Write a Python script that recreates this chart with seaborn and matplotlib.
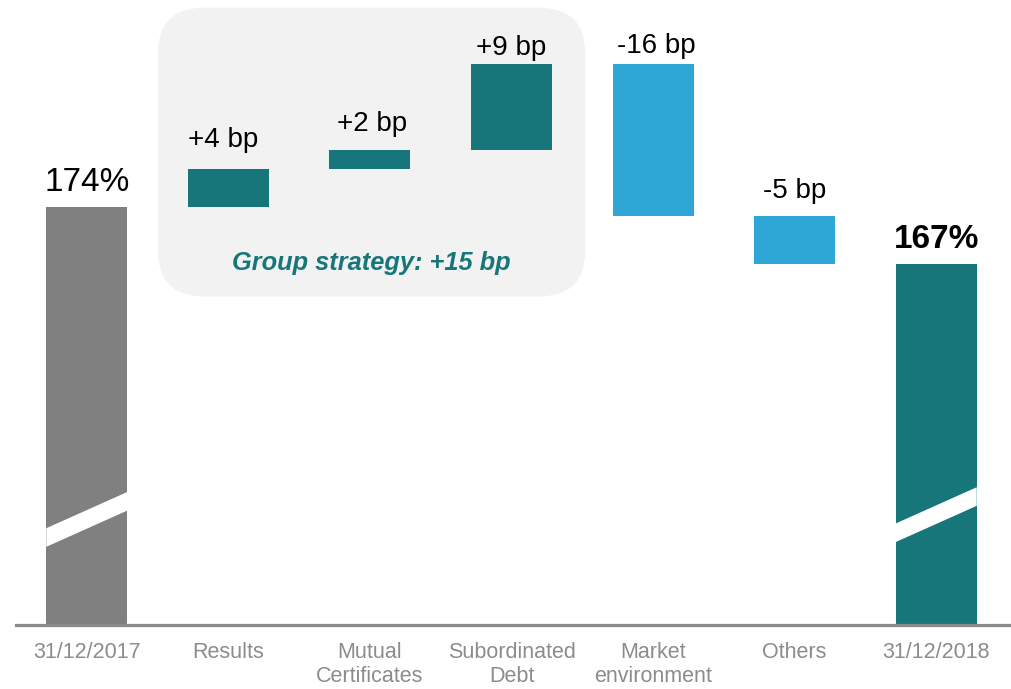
import numpy as np
import pandas as pd
import seaborn as sns
import matplotlib.pyplot as plt
from matplotlib.patches import FancyBboxPatch, Polygon

# solvency ratio bridge 2017 -> 2018
categories = ['31/12/2017', 'Results', 'Mutual\nCertificates', 'Subordinated\nDebt',
              'Market\nenvironment', 'Others', '31/12/2018']
start_value = 174
deltas = [4, 2, 9, -16, -5]
start_label = '174%'
end_label = '167%'
delta_labels = ['+4 bp', '+2 bp', '+9 bp', '-16 bp', '-5 bp']
group_label = 'Group strategy: +15 bp'

gray = '#808080'
teal = '#17767a'
blue = '#2ea6d6'

# waterfall levels
levels = start_value + np.cumsum([0] + deltas)
bottoms = [0] + list(levels[:-1]) + [0]
heights = [start_value] + deltas + [levels[-1]]
bar_colors = [gray, teal, teal, teal, blue, blue, teal]

df = pd.DataFrame({'step': categories, 'height': heights})

sns.set_theme(style='white')
plt.rcParams['font.family'] = ['Liberation Sans', 'DejaVu Sans']

fig = plt.figure(figsize=(10.11, 6.89), dpi=100)
ax = fig.add_axes([16 / 1011, 64 / 689, 995 / 1011, 625 / 689])

sns.barplot(data=df, x='step', y='height', bottom=bottoms, width=0.572,
            color=gray, saturation=1, linewidth=0, ax=ax, zorder=2)
for patch, c in zip(ax.patches, bar_colors):
    patch.set_facecolor(c)
    patch.set_edgecolor(c)

ax.set_xlim(-0.5, 6.528)
ax.set_ylim(130.15, 195.7)
ax.set_yticks([])
ax.set_xlabel('')
ax.set_ylabel('')
for s in ['top', 'left', 'right']:
    ax.spines[s].set_visible(False)
ax.spines['bottom'].set_color('#8a8a8a')
ax.spines['bottom'].set_linewidth(2.3)
ax.spines['bottom'].set_zorder(3)
ax.tick_params(axis='x', length=0, pad=12.5, labelsize=15.5, labelcolor='#8c8c8c')
for lab in ax.get_xticklabels():
    lab.set_linespacing(1.15)

# rounded box behind the group strategy bars
fig.canvas.draw()
p0 = ax.transData.transform((0, 0))
p1 = ax.transData.transform((1, 1))
aspect = (p1[0] - p0[0]) / (p1[1] - p0[1])
box = FancyBboxPatch((0.502, 164.6), 3.02, 30.3,
                     boxstyle='round,pad=0,rounding_size=0.33',
                     mutation_aspect=aspect, facecolor='#f2f2f2',
                     edgecolor='none', zorder=1)
ax.add_patch(box)
ax.text(2.01, 168.1, group_label, ha='center', va='center', fontsize=18.3,
        fontweight='bold', fontstyle='italic', color=teal, zorder=4)

# axis break stripes on the total bars
w = 0.572 / 2
for i in [0, 6]:
    lo_left, lo_right = (140.3, 144.1) if i == 0 else (140.8, 144.6)
    stripe = Polygon([(i - w, lo_left), (i + w, lo_right),
                      (i + w, lo_right - 1.95), (i - w, lo_left - 1.95)],
                     closed=True, facecolor='white', edgecolor='none', zorder=3)
    ax.add_patch(stripe)

# value labels
tops = [start_value] + [max(b, b + d) for b, d in zip(levels[:-1], deltas)] + [levels[-1]]
texts = [start_label] + delta_labels + [end_label]
gaps = [16, 22, 19, 9, 11, 18, 16]
shifts = [0, -5, 2, 0, 3, 0, 0]
for i, (t, lab, g, dx) in enumerate(zip(tops, texts, gaps, shifts)):
    if i in (0, 6):
        ax.annotate(lab, (i, t), xytext=(dx * 0.72, g * 0.72), textcoords='offset points',
                    ha='center', va='baseline', fontsize=24,
                    fontweight='bold' if i == 6 else 'normal', color='black', zorder=4)
    else:
        ax.annotate(lab, (i, t), xytext=(dx * 0.72, g * 0.72), textcoords='offset points',
                    ha='center', va='baseline', fontsize=20, color='black', zorder=4)

fig.savefig('out.png', dpi=100)
